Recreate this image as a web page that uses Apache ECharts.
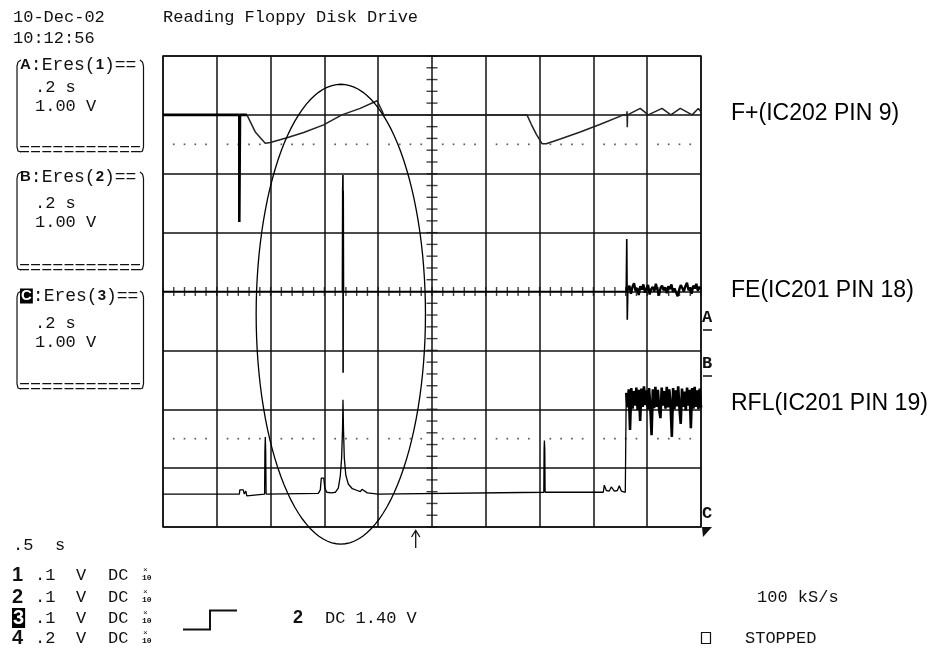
<!DOCTYPE html>
<html>
<head>
<meta charset="utf-8">
<title>Reading Floppy Disk Drive</title>
<script src="https://cdn.jsdelivr.net/npm/echarts@6/dist/echarts.min.js"></script>
<style>
    html, body { margin: 0; padding: 0; background: #fff; }
    #scope { width: 942px; height: 651px; }
</style>
</head>
<body>
<div id="scope"></div>
<script>
// time in seconds (0.2 s/div), level in volts (1.00 V/div)
var fPlusHold = [[0, 3.0], [0.2836, 3.0], [0.2836, 1.18], [0.2862, 1.18], [0.2862, 3.0], [0.312, 3.0]];
var fPlus = [[0.312, 3.0], [0.343, 2.71], [0.380, 2.52], [0.399, 2.53], [0.461, 2.61], [0.523, 2.70],
    [0.597, 2.83], [0.665, 3.0], [0.733, 3.11], [0.796, 3.24], [0.816, 3.05], [0.820, 3.0],
    [1.353, 3.0], [1.369, 2.84], [1.388, 2.67], [1.409, 2.51], [1.425, 2.51], [1.477, 2.59],
    [1.551, 2.71], [1.626, 2.84], [1.712, 3.0], [1.724, 3.0], [1.725, 3.06], [1.726, 2.79],
    [1.727, 3.0], [1.774, 3.11], [1.804, 3.0], [1.855, 3.11], [1.888, 3.0], [1.923, 3.11],
    [1.967, 3.0], [1.990, 3.11], [2.0, 3.05]];

var feTrace = [[0, 0], [0.667, 0], [0.668, 1.71], [0.669, 1.98], [0.6695, -1.38], [0.670, 1.71],
    [0.671, 0], [1.722, 0], [1.724, 0.89], [1.726, -0.48], [1.728, 0.02]];
var feNoiseStart = 1.728;
var feNoise = [0.02, 0.10, -0.04, 0.08, 0.14, 0.01, 0.06, -0.06, 0.09, 0.03, 0.12, -0.02,
    0.05, 0.11, -0.05, 0.04, 0.08, 0.00, 0.13, 0.03, -0.07, 0.06, 0.10, 0.02,
    0.07, -0.03, 0.09, 0.04, 0.12, -0.01, 0.05, 0.08, -0.08, 0.03, 0.11, 0.06,
    0.00, 0.09, 0.15, 0.02, 0.07, -0.04, 0.10, 0.05, 0.13, 0.01, 0.08, 0.04];

var rflTrace = [[0, -3.44], [0.284, -3.44], [0.2855, -3.37], [0.2985, -3.37], [0.302, -3.44],
    [0.308, -3.39], [0.3115, -3.47], [0.317, -3.44], [0.3777, -3.44], [0.3788, -2.72],
    [0.3803, -2.47], [0.3818, -2.72], [0.3833, -3.44], [0.5773, -3.43], [0.5848, -3.37],
    [0.5885, -3.17], [0.594, -3.14], [0.5978, -3.17], [0.6015, -3.34], [0.609, -3.41],
    [0.6257, -3.42], [0.6405, -3.41], [0.6517, -3.34], [0.6591, -3.13], [0.664, -2.83],
    [0.6673, -2.35], [0.6691, -1.84], [0.671, -2.35], [0.674, -2.83], [0.6796, -3.12],
    [0.6888, -3.27], [0.7037, -3.35], [0.7223, -3.38], [0.7335, -3.40], [0.7398, -3.36],
    [0.7465, -3.39], [0.7595, -3.42], [0.80, -3.44], [0.804, -3.41], [1.4156, -3.41],
    [1.4167, -2.68], [1.4178, -2.53], [1.4193, -2.68], [1.4205, -3.41], [1.6368, -3.41],
    [1.6405, -3.29], [1.648, -3.38], [1.659, -3.39], [1.6665, -3.32], [1.6777, -3.39],
    [1.689, -3.38], [1.6963, -3.30], [1.7037, -3.39], [1.7186, -3.41], [1.7205, -3.41],
    [1.722, -1.72]];
var rflNoiseStart = 1.722;
var rflNoise = [-1.72, -1.97, -1.66, -2.35, -1.64, -1.99, -1.69, -1.94, -1.63, -2.01,
    -1.67, -2.20, -1.65, -1.96, -1.61, -1.93, -1.68, -2.00, -1.64, -1.95,
    -2.44, -1.66, -1.98, -1.62, -1.96, -1.67, -2.01, -2.15, -1.63, -1.94,
    -1.69, -1.99, -1.62, -1.97, -1.66, -1.93, -2.47, -1.64, -2.00, -1.68,
    -1.95, -1.61, -1.98, -2.25, -1.65, -1.96, -1.70, -2.02, -1.63, -1.94,
    -1.67, -2.32, -1.64, -1.99, -1.62, -1.96, -1.68, -2.00, -1.65, -1.97];

var channelNames = ['F+(IC202 PIN 9)', 'FE(IC201 PIN 18)', 'RFL(IC201 PIN 19)'];
var refLevels = [2.5, -2.5];
// hand-drawn circle round the event: centre t, centre v, radius t, radius v
var highlight = [[0.661, -0.385, 0.3147, 3.905]];

(function () {
    var MONO = '"Liberation Mono", "DejaVu Sans Mono", monospace';
    var SANS = '"Liberation Sans", Arial, sans-serif';
    var INK = '#111';

    function initial() {
        drawScope();
    }

    function sampled(start, end, values) {
        var out = [];
        var step = (end - start) / (values.length - 1);
        values.forEach(function (v, i) {
            out.push([start + i * step, v]);
        });
        return out;
    }

    function graticule() {
        var h = [], v = [], dots = [];
        for (var k = 0; k <= 50; k++) h.push([k * 0.04, 0]);
        for (var j = 0; j <= 40; j++) v.push([1.0, -4 + j * 0.2]);
        refLevels.forEach(function (lvl) {
            for (var k = 1; k < 50; k++) {
                if (k % 5 !== 0) dots.push([k * 0.04, lvl]);
            }
        });
        return { h: h, v: v, dots: dots };
    }

    function txt(x, y, text, size, extra) {
        var style = {
            text: text, fontSize: size, fontFamily: MONO, fill: INK,
            align: 'left', verticalAlign: 'middle', textAlign: 'left', textVerticalAlign: 'middle'
        };
        for (var k in extra) style[k] = extra[k];
        return { type: 'text', x: x, y: y, silent: true, style: style };
    }

    function line(points, width) {
        return { type: 'polyline', silent: true, shape: { points: points }, style: { stroke: INK, lineWidth: width || 1.3, fill: null } };
    }

    function richDigits(size) {
        return {
            b: { fontWeight: 'bold', fontSize: size, fontFamily: SANS, fill: INK },
            inv: { fontWeight: 'bold', fontSize: size, fontFamily: SANS, fill: '#fff', backgroundColor: '#000', padding: [0, 1] }
        };
    }

    function buildGraphics() {
        var g = [];
        g.push(txt(13, 17, '10-Dec-02', 17));
        g.push(txt(13, 38, '10:12:56', 17));
        g.push(txt(163, 17, 'Reading Floppy Disk Drive', 17));

        // memory boxes
        var boxes = [
            { head: 65, s: 87, v: 106, foot: 150, label: '{b|A}:Eres({b|1})==' },
            { head: 177, s: 203, v: 222, foot: 268, label: '{b|B}:Eres({b|2})==' },
            { head: 296, s: 323, v: 342, foot: 387, label: '{inv|C}:Eres({b|3})==' }
        ];
        boxes.forEach(function (b) {
            g.push(txt(20, b.head, b.label, 18, { rich: richDigits(15) }));
            g.push(txt(35, b.s, '.2 s', 17));
            g.push(txt(35, b.v, '1.00 V', 17));
            g.push(txt(19, b.foot, '===========', 18.5));
            g.push(line([[21, b.head - 5], [18, b.head - 3], [17, b.head + 1], [17, b.foot - 3], [18, b.foot + 1], [21, b.foot + 2]], 1.2));
            g.push(line([[140, b.head - 5], [142.5, b.head - 3], [143.5, b.head + 1], [143.5, b.foot - 3], [142.5, b.foot + 1], [140, b.foot + 2]], 1.2));
        });

        // timebase and channel settings
        g.push(txt(13, 545, '.5', 17));
        g.push(txt(55, 545, 's', 17));
        var rows = [
            { y: 575, d: '{b|1}', val: '.1' },
            { y: 597, d: '{b|2}', val: '.1' },
            { y: 618, d: '{inv|3}', val: '.1' },
            { y: 638, d: '{b|4}', val: '.2' }
        ];
        rows.forEach(function (r) {
            g.push(txt(12, r.y, r.d, 17, { rich: richDigits(20) }));
            g.push(txt(35, r.y, r.val, 17));
            g.push(txt(76, r.y, 'V', 17));
            g.push(txt(108, r.y, 'DC', 17));
            g.push(txt(143, r.y - 5, '\u00d7', 8));
            g.push(txt(142, r.y + 3, '10', 8, { fontWeight: 'bold' }));
        });

        // trigger
        g.push(line([[183, 629.5], [210, 629.5], [210, 610.5], [237, 610.5]], 2));
        g.push(txt(293, 618, '2', 18, { fontWeight: 'bold', fontFamily: SANS }));
        g.push(txt(325, 618, 'DC 1.40 V', 17));
        g.push(line([[415.7, 531], [415.7, 548]], 1.3));
        g.push(line([[411.5, 537], [415.7, 530.5], [419.9, 537]], 1.3));

        g.push(txt(757, 597, '100 kS/s', 17));
        g.push({ type: 'rect', silent: true, shape: { x: 701.5, y: 632.5, width: 9, height: 11 }, style: { fill: null, stroke: INK, lineWidth: 1.2 } });
        g.push(txt(745, 638, 'STOPPED', 17));

        // trace markers on the right edge
        [{ t: 'A', y: 318 }, { t: 'B', y: 364 }, { t: 'C', y: 514 }].forEach(function (m) {
            g.push(txt(702, m.y, m.t, 17, { fontWeight: 'bold' }));
            if (m.t !== 'C') g.push(line([[703, m.y + 12], [712, m.y + 12]], 1.5));
        });
        g.push({ type: 'polygon', silent: true, shape: { points: [[702, 527], [712, 527], [703, 537]] }, style: { fill: INK } });

        // channel names
        var nameY = [114, 291, 404];
        channelNames.forEach(function (n, i) {
            g.push(txt(731, nameY[i], n, 23, { fontFamily: SANS, fill: '#000' }));
        });
        return g;
    }

    function traceSeries(name, data, width, color) {
        return {
            name: name,
            type: 'line',
            data: data,
            showSymbol: false,
            symbol: 'none',
            silent: true,
            z: 5,
            lineStyle: { color: color || '#000', width: width }
        };
    }

    function drawScope() {
        var chartDom = document.getElementById('scope');
        var myChart = echarts.init(chartDom, null, { renderer: 'canvas' });
        var grat = graticule();

        var axisCommon = {
            type: 'value',
            axisLine: { show: false },
            axisTick: { show: false },
            axisLabel: { show: false },
            splitLine: { show: true, lineStyle: { color: INK, width: 1.5 } }
        };

        var option = {
            animation: false,
            backgroundColor: '#fff',
            grid: { left: 163, right: 241, top: 56, bottom: 124, show: true, borderColor: INK, borderWidth: 1.5 },
            xAxis: Object.assign({ min: 0, max: 2, interval: 0.2 }, axisCommon),
            yAxis: Object.assign({ min: -4, max: 4, interval: 1 }, axisCommon),
            series: [
                { type: 'scatter', data: grat.h, symbol: 'rect', symbolSize: [1.4, 9], itemStyle: { color: INK }, silent: true, z: 3 },
                { type: 'scatter', data: grat.v, symbol: 'rect', symbolSize: [11, 1.4], itemStyle: { color: INK }, silent: true, z: 3 },
                { type: 'scatter', data: grat.dots, symbol: 'rect', symbolSize: 1.7, itemStyle: { color: '#333' }, silent: true, z: 3 },
                traceSeries('F+ hold', fPlusHold, 2.6),
                traceSeries('F+', fPlus, 1.5, '#222'),
                traceSeries('FE', feTrace, 1.6),
                traceSeries('FE noise', sampled(feNoiseStart, 2.0, feNoise), 2.4),
                traceSeries('RFL', rflTrace, 1.3),
                traceSeries('RFL noise', sampled(rflNoiseStart, 2.0, rflNoise), 2.6),
                {
                    type: 'custom',
                    data: highlight,
                    clip: false,
                    silent: true,
                    z: 6,
                    encode: { x: 0, y: 1 },
                    renderItem: function (params, api) {
                        var c = api.coord([api.value(0), api.value(1)]);
                        var s = api.size([api.value(2), api.value(3)]);
                        var pts = [];
                        for (var i = 0; i < 120; i++) {
                            var a = i / 120 * Math.PI * 2;
                            pts.push([c[0] + s[0] * Math.cos(a), c[1] + s[1] * Math.sin(a)]);
                        }
                        return { type: 'polygon', shape: { points: pts }, style: { fill: 'none', stroke: '#000', lineWidth: 1.3 } };
                    }
                }
            ],
            graphic: { elements: buildGraphics() }
        };

        option && myChart.setOption(option);
    }

    initial();
})();
</script>
</body>
</html>
